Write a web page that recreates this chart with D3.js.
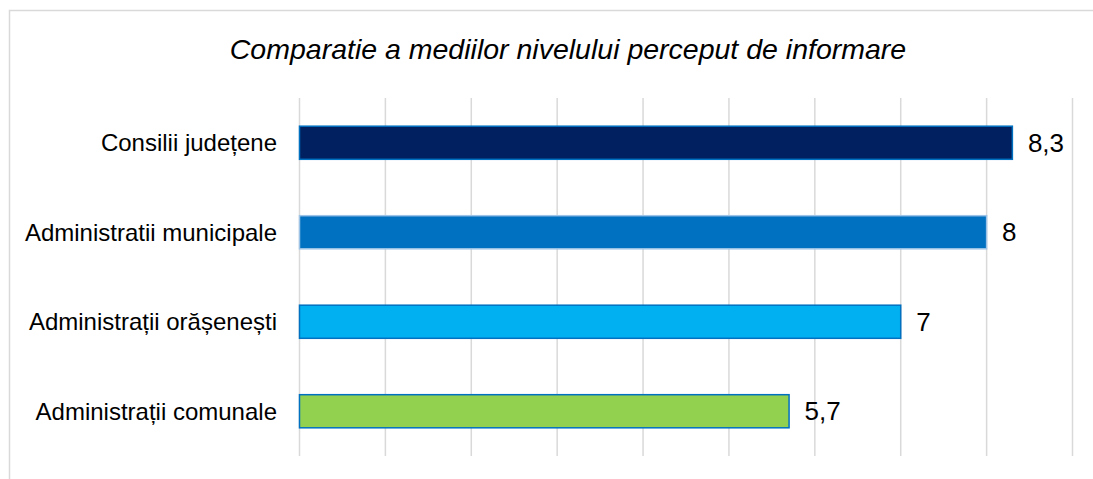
<!DOCTYPE html>
<html>
<head>
<meta charset="utf-8">
<script src="https://cdn.jsdelivr.net/npm/d3@7"></script>
<style>
  html, body { margin: 0; padding: 0; background: #ffffff; }
  svg { display: block; }
  text { font-family: Arial, "Liberation Sans", sans-serif; fill: #000; }
</style>
</head>
<body>
<svg id="chart" width="1093" height="479"></svg>
<script>
const title = "Comparatie a mediilor nivelului perceput de informare";
const categories = ["Consilii județene", "Administratii municipale", "Administrații orășenești", "Administrații comunale"];
const values = [8.3, 8, 7, 5.7];
const valueLabels = ["8,3", "8", "7", "5,7"];
const fills = ["#002060", "#0070C0", "#00B0F0", "#92D050"];
const strokes = ["#0070C0", "#9DC3E6", "#0070C0", "#0070C0"];
const gridTicks = [0, 1, 2, 3, 4, 5, 6, 7, 8, 9];

const svg = d3.select("#chart");

// chart border (extends past the window on right and bottom)
svg.append("rect")
  .attr("x", 9.5).attr("y", 10.5)
  .attr("width", 1200).attr("height", 600)
  .attr("fill", "none").attr("stroke", "#d9d9d9").attr("stroke-width", 1.5);

const x = d3.scaleLinear().domain([0, 9]).range([299.5, 1072.5]);
const y = d3.scaleBand().domain(categories).range([98, 456])
  .paddingInner(0.63).paddingOuter(0.315);

// gridlines
svg.append("g")
  .selectAll("line")
  .data(gridTicks)
  .join("line")
  .attr("x1", d => x(d)).attr("x2", d => x(d))
  .attr("y1", 98).attr("y2", 456)
  .attr("stroke", "#d9d9d9").attr("stroke-width", 1.5);

// title
svg.append("text")
  .attr("x", 568).attr("y", 59)
  .attr("text-anchor", "middle")
  .style("font-size", "28.5px")
  .style("font-style", "italic")
  .text(title);

// bars
const data = categories.map((c, i) => ({ c, v: values[i], l: valueLabels[i], f: fills[i], s: strokes[i] }));

svg.append("g")
  .selectAll("rect")
  .data(data)
  .join("rect")
  .attr("x", x(0))
  .attr("y", d => y(d.c))
  .attr("width", d => x(d.v) - x(0))
  .attr("height", y.bandwidth())
  .attr("fill", d => d.f)
  .attr("stroke", d => d.s)
  .attr("stroke-width", 1.5);

// category labels
svg.append("g")
  .selectAll("text")
  .data(data)
  .join("text")
  .attr("x", 277)
  .attr("y", d => y(d.c) + y.bandwidth() / 2)
  .attr("dy", "0.35em")
  .attr("text-anchor", "end")
  .style("font-size", "24px")
  .text(d => d.c);

// value labels
svg.append("g")
  .selectAll("text")
  .data(data)
  .join("text")
  .attr("x", d => x(d.v) + 15.5)
  .attr("y", d => y(d.c) + y.bandwidth() / 2)
  .attr("dy", "0.35em")
  .style("font-size", "26px")
  .text(d => d.l);
</script>
</body>
</html>
